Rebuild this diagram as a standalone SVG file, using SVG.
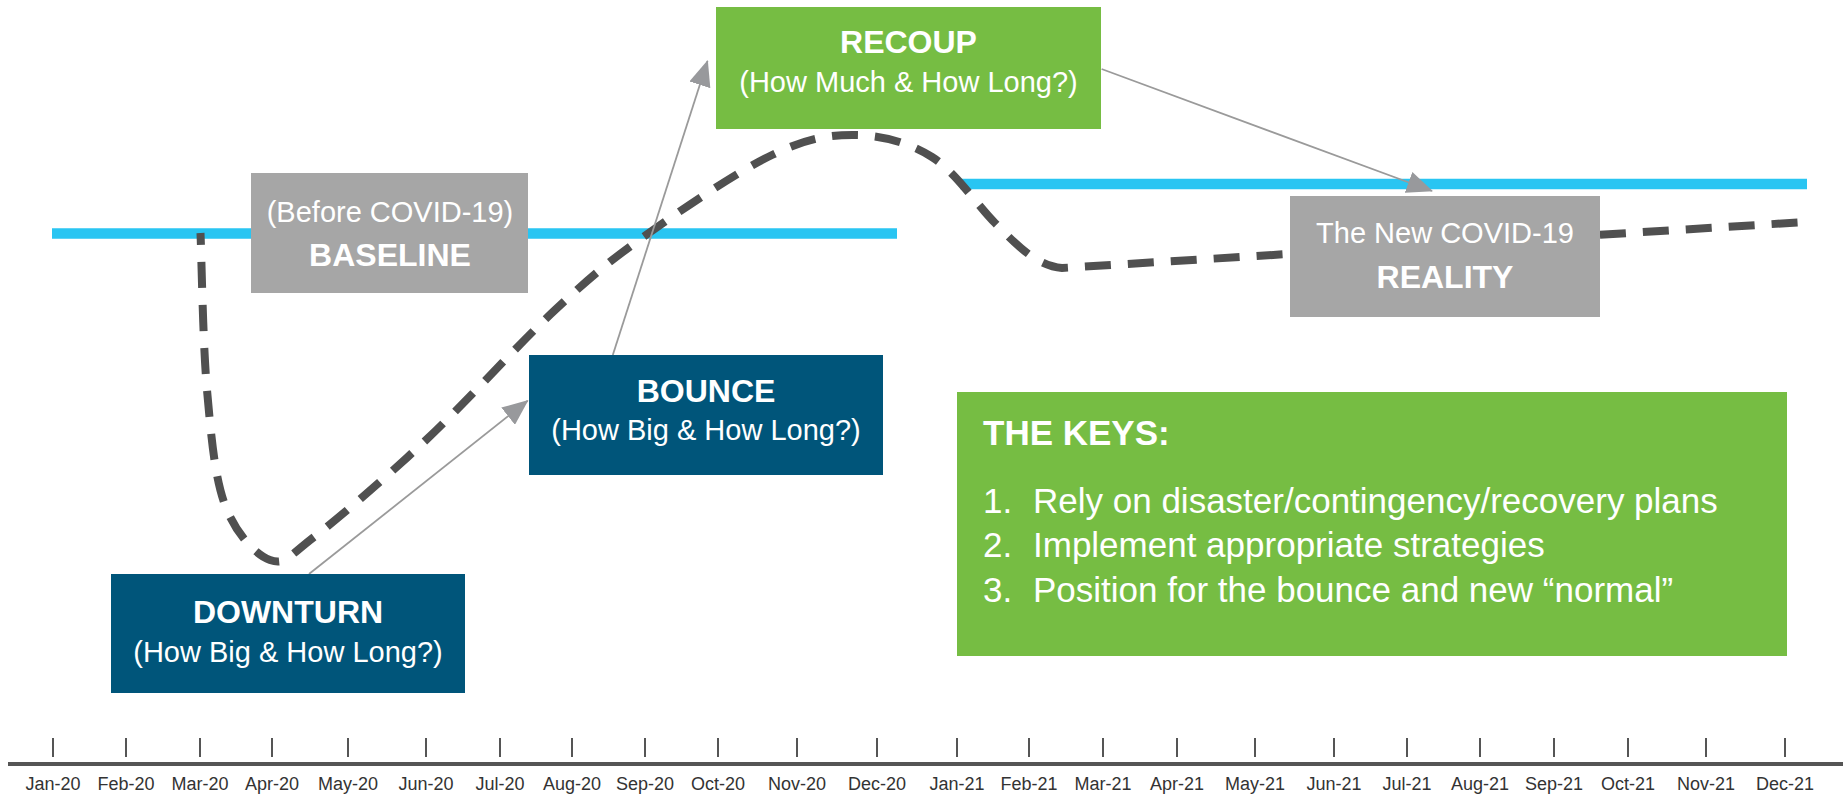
<svg xmlns="http://www.w3.org/2000/svg" width="1843" height="796" viewBox="0 0 1843 796">
<style>
.t{font-family:"Liberation Sans",Arial,sans-serif;fill:#fff;text-anchor:middle}
.b{font-weight:bold;font-size:32px}
.s{font-size:29px}
.ax{font-family:"Liberation Sans",Arial,sans-serif;font-size:18px;fill:#333;text-anchor:middle}
.tick{stroke:#555;stroke-width:2}
.base{stroke:#29c5f2;stroke-width:10.5;fill:none}
.conn{stroke:#9a9a9a;stroke-width:1.8;fill:none;marker-end:url(#ah)}
.key{font-family:"Liberation Sans",Arial,sans-serif;fill:#fff;font-size:35px}
</style>
<defs>
<marker id="ah" markerUnits="userSpaceOnUse" markerWidth="26" markerHeight="22" viewBox="0 0 26 22" refX="25" refY="11" orient="auto">
<path d="M0,0 L26,11 L0,22 z" fill="#98999c"/>
</marker>
</defs>
<rect width="1843" height="796" fill="#fff"/>
<g id="axis">
<line x1="8" y1="764" x2="1843" y2="764" stroke="#555" stroke-width="4"/>
<g class="tick">
<line x1="53" y1="738" x2="53" y2="757"/><line x1="126" y1="738" x2="126" y2="757"/><line x1="200" y1="738" x2="200" y2="757"/><line x1="272" y1="738" x2="272" y2="757"/><line x1="348" y1="738" x2="348" y2="757"/><line x1="426" y1="738" x2="426" y2="757"/><line x1="500" y1="738" x2="500" y2="757"/><line x1="572" y1="738" x2="572" y2="757"/><line x1="645" y1="738" x2="645" y2="757"/><line x1="718" y1="738" x2="718" y2="757"/><line x1="797" y1="738" x2="797" y2="757"/><line x1="877" y1="738" x2="877" y2="757"/><line x1="957" y1="738" x2="957" y2="757"/><line x1="1029" y1="738" x2="1029" y2="757"/><line x1="1103" y1="738" x2="1103" y2="757"/><line x1="1177" y1="738" x2="1177" y2="757"/><line x1="1255" y1="738" x2="1255" y2="757"/><line x1="1334" y1="738" x2="1334" y2="757"/><line x1="1407" y1="738" x2="1407" y2="757"/><line x1="1480" y1="738" x2="1480" y2="757"/><line x1="1554" y1="738" x2="1554" y2="757"/><line x1="1628" y1="738" x2="1628" y2="757"/><line x1="1706" y1="738" x2="1706" y2="757"/><line x1="1785" y1="738" x2="1785" y2="757"/>
</g>
<g class="ax">
<text x="53" y="790">Jan-20</text><text x="126" y="790">Feb-20</text><text x="200" y="790">Mar-20</text><text x="272" y="790">Apr-20</text><text x="348" y="790">May-20</text><text x="426" y="790">Jun-20</text><text x="500" y="790">Jul-20</text><text x="572" y="790">Aug-20</text><text x="645" y="790">Sep-20</text><text x="718" y="790">Oct-20</text><text x="797" y="790">Nov-20</text><text x="877" y="790">Dec-20</text><text x="957" y="790">Jan-21</text><text x="1029" y="790">Feb-21</text><text x="1103" y="790">Mar-21</text><text x="1177" y="790">Apr-21</text><text x="1255" y="790">May-21</text><text x="1334" y="790">Jun-21</text><text x="1407" y="790">Jul-21</text><text x="1480" y="790">Aug-21</text><text x="1554" y="790">Sep-21</text><text x="1628" y="790">Oct-21</text><text x="1706" y="790">Nov-21</text><text x="1785" y="790">Dec-21</text>
</g>
</g>
<g id="levels">
<line class="base" x1="52" y1="233.5" x2="897" y2="233.5"/>
<line class="base" x1="960" y1="184" x2="1807" y2="184"/>
</g>
<g id="trend">
<path d="M200.5,233 C201.6,259.2 202.9,344.7 207,390 C211.1,435.3 214.5,476.7 225,505 C235.5,533.3 255.2,554.7 270,560 C284.8,565.3 288,557 314,537 C340,517 385.8,477.8 426,440 C466.2,402.2 518.3,344.2 555,310 C591.7,275.8 609.8,260.8 646,235 C682.2,209.2 737.2,171.7 772,155 C806.8,138.3 828.3,134.7 855,135 C881.7,135.3 908.7,142.3 932,157 C955.3,171.7 977,205 995,223 C1013,241 1035,266 1062,268 L1806,222" fill="none" stroke="#505050" stroke-width="8" stroke-dasharray="26 17" stroke-dashoffset="14"/>
</g>
<g id="connectors">
<line class="conn" x1="309" y1="574" x2="527.7" y2="400.7"/>
<line class="conn" x1="612.8" y1="355" x2="707.5" y2="61"/>
<line class="conn" x1="1101.6" y1="69" x2="1432" y2="191"/>
</g>
<g id="baseline">
<rect x="251" y="173" width="277" height="120" fill="#a6a6a6"/>
<text class="t s" x="390" y="222">(Before COVID-19)</text>
<text class="t b" x="390" y="266">BASELINE</text>
</g>
<g id="recoup">
<rect x="716" y="7" width="385" height="122" fill="#76bd43"/>
<text class="t b" x="908.5" y="53">RECOUP</text>
<text class="t s" x="908.5" y="92">(How Much &amp; How Long?)</text>
</g>
<g id="bounce">
<rect x="529" y="355" width="354" height="120" fill="#00557a"/>
<text class="t b" x="706" y="402">BOUNCE</text>
<text class="t s" x="706" y="440">(How Big &amp; How Long?)</text>
</g>
<g id="downturn">
<rect x="111" y="574" width="354" height="119" fill="#00557a"/>
<text class="t b" x="288" y="623">DOWNTURN</text>
<text class="t s" x="288" y="662">(How Big &amp; How Long?)</text>
</g>
<g id="reality">
<rect x="1290" y="196" width="310" height="121" fill="#a6a6a6"/>
<text class="t s" x="1445" y="243">The New COVID-19</text>
<text class="t b" x="1445" y="288">REALITY</text>
</g>
<g id="keys">
<rect x="957" y="392" width="830" height="264" fill="#76bd43"/>
<text class="key" x="983" y="445" font-weight="bold" font-size="36">THE KEYS:</text>
<text class="key" x="983" y="513">1.</text><text class="key" x="1033" y="513">Rely on disaster/contingency/recovery plans</text>
<text class="key" x="983" y="557">2.</text><text class="key" x="1033" y="557">Implement appropriate strategies</text>
<text class="key" x="983" y="602">3.</text><text class="key" x="1033" y="602">Position for the bounce and new “normal”</text>
</g>
</svg>
